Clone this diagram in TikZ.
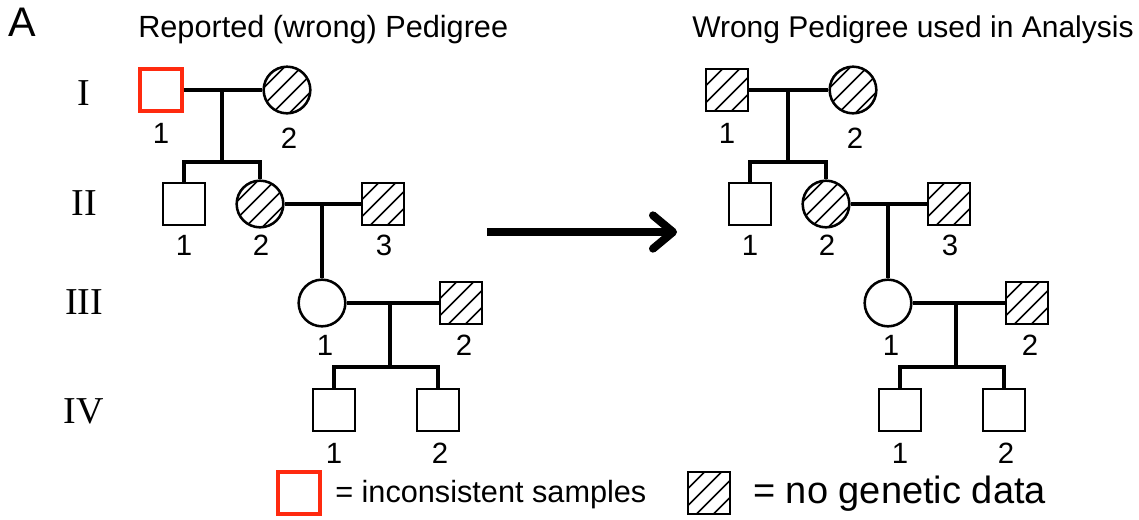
\documentclass[tikz,border=0pt]{standalone}
\usepackage{fontspec}
\setmainfont{Liberation Sans}
\newfontfamily\genfont{Liberation Serif}
\usetikzlibrary{arrows.meta}
\definecolor{cincons}{HTML}{FF2A0F}

\tikzset{
  person/.style={draw,line width=1.9pt,inner sep=0pt,fill=white},
  male/.style={person,rectangle,minimum size=31.5pt},
  female/.style={person,circle,minimum size=35pt},
  nodata/.style={path picture={
      \foreach \d in {-2.5,-1.5,...,2.5}
        \draw[line width=1.3pt] ([shift={(\d*12.75pt-30pt,-30pt)}]path picture bounding box.center) -- ++(60pt,60pt);}},
  incons/.style={draw=cincons,line width=2.5pt},
  link/.style={line width=2.3pt},
  num/.style={font=\fontsize{22}{24}\selectfont,inner sep=0pt},
  gen/.style={font=\genfont\fontsize{28.5}{30}\selectfont,inner sep=0pt},
  ttl/.style={inner sep=0pt,anchor=base west},
}

\begin{document}
\begin{tikzpicture}[x=0.75pt,y=-0.75pt]
\useasboundingbox (0,0) rectangle (1139,519);
% panel letter and titles
\node[font=\fontsize{31}{32}\selectfont,inner sep=0pt] (panel) at (22.5,22) {A};
\node[ttl,font=\fontsize{23}{24}\selectfont] (title-L) at (138,37) {Reported (wrong) Pedigree};
\node[ttl,font=\fontsize{22.5}{24}\selectfont] (title-R) at (692,37) {Wrong Pedigree used in Analysis};
% generations
\foreach \g/\gy in {I/93,II/203,III/302,IV/411}
  \node[gen] (gen-\g) at (84,\gy) {\g};
% the two pedigrees, right one shifted
\foreach \s/\p/\st in {0/L/incons,566/R/nodata}{
\begin{scope}[shift={(\s,0)}]
  \node[male,\st] (\p-I1) at (161,90) {};
  \node[female,nodata] (\p-I2) at (287,90) {};
  \node[male] (\p-II1) at (184,204) {};
  \node[female,nodata] (\p-II2) at (260,204) {};
  \node[male,nodata] (\p-II3) at (383,204) {};
  \node[female] (\p-III1) at (322,303) {};
  \node[male,nodata] (\p-III2) at (461,303) {};
  \node[male] (\p-IV1) at (334,410) {};
  \node[male] (\p-IV2) at (438,410) {};
  \coordinate (\p-m1) at (222,90);
  \coordinate (\p-s1) at (222,162);
  \coordinate (\p-m2) at (322,204);
  \coordinate (\p-m3) at (390,303);
  \coordinate (\p-s3) at (390,367);
  \draw[link] (\p-I1) -- (\p-I2);
  \draw[link] (\p-m1) -- (\p-s1);
  \draw[link] (\p-II1.north) |- (\p-s1) -| (\p-II2.north);
  \draw[link] (\p-II2) -- (\p-II3);
  \draw[link] (\p-m2) -- (\p-III1);
  \draw[link] (\p-III1) -- (\p-III2);
  \draw[link] (\p-m3) -- (\p-s3);
  \draw[link] (\p-IV1.north) |- (\p-s3) -| (\p-IV2.north);
  % individual numbers
  \foreach \n/\t/\lx/\ly in {I1/1/161/133,I2/2/289/138,II1/1/184/245,II2/2/261/245,
      II3/3/384/245,III1/1/325/345,III2/2/464/345,IV1/1/334/453,IV2/2/440/453}
    \node[num] (\p-\n-lab) at (\lx,\ly) {\t};
\end{scope}}
% arrow between pedigrees
\coordinate (arr-s) at (487,232);
\coordinate (arr-e) at (677,232);
\draw[line width=6pt,-{Straight Barb[length=15pt,width=25pt,round]}] (arr-s) -- (arr-e);
% legend
\node[male,incons] (key-incons) at (299,493) {};
\node[inner sep=0pt,anchor=base west,font=\fontsize{23}{24}\selectfont] (key-incons-txt) at (335,502) {= inconsistent samples};
\node[male,nodata] (key-nodata) at (709,493) {};
\node[inner sep=0pt,anchor=base west,font=\fontsize{28.5}{30}\selectfont] (key-nodata-txt) at (753,503) {= no genetic data};
\end{tikzpicture}
\end{document}
